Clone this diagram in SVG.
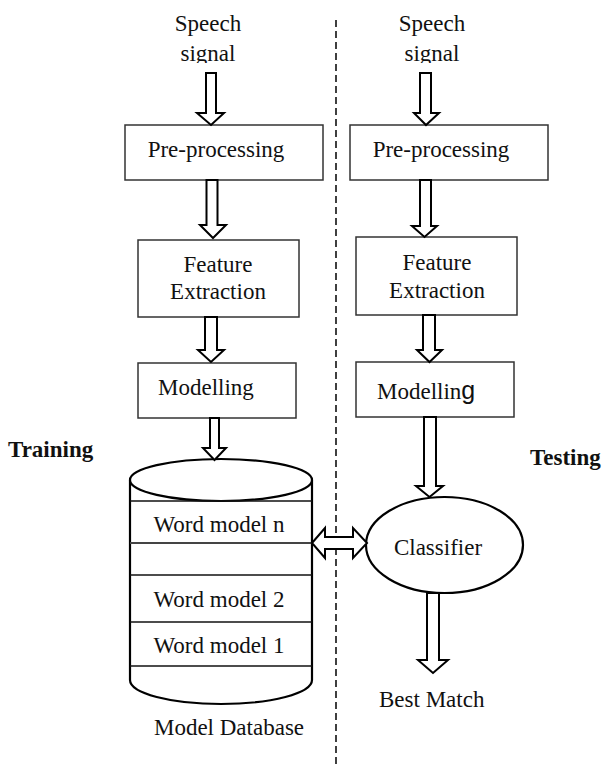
<svg xmlns="http://www.w3.org/2000/svg" width="612" height="765" viewBox="0 0 612 765">
<style>
text{font-family:"Liberation Serif","Times New Roman",serif;font-size:23px;fill:#111}
.c{text-anchor:middle}
.b{font-weight:bold}
.box{fill:#fff;stroke:#333;stroke-width:1.5}
.arr{fill:#fff;stroke:#000;stroke-width:2;stroke-linejoin:miter}
.cyl{fill:#fff;stroke:#000;stroke-width:2.2}
.ln{stroke:#111;stroke-width:1.6}
</style>
<defs>
<clipPath id="clipTop"><rect x="0" y="0" width="612" height="63"/></clipPath>
</defs>
<rect width="612" height="765" fill="#fff"/>
<g id="divider"><line x1="336" y1="20" x2="336" y2="765" stroke="#111" stroke-width="1.6" stroke-dasharray="7,4"/></g>

<g id="speech-left" clip-path="url(#clipTop)">
<text class="c" x="208" y="31">Speech</text>
<text class="c" x="208" y="61">signal</text>
</g>
<g id="speech-right" clip-path="url(#clipTop)">
<text class="c" x="432" y="31">Speech</text>
<text class="c" x="432" y="61">signal</text>
</g>

<g id="pre-left"><rect class="box" x="125" y="125" width="198" height="55"/><text class="c" x="216" y="157">Pre-processing</text></g>
<g id="pre-right"><rect class="box" x="350" y="125" width="198" height="55"/><text class="c" x="441" y="157">Pre-processing</text></g>

<g id="fe-left"><rect class="box" x="138" y="240" width="161" height="77"/><text class="c" x="218" y="272">Feature</text><text class="c" x="218" y="299">Extraction</text></g>
<g id="fe-right"><rect class="box" x="356" y="237" width="161" height="78"/><text class="c" x="437" y="270">Feature</text><text class="c" x="437" y="298">Extraction</text></g>

<g id="mod-left"><rect class="box" x="138" y="363" width="158" height="55"/><text x="158" y="395">Modelling</text></g>
<g id="mod-right"><rect class="box" x="356" y="362" width="158" height="55"/><text x="377" y="399">Modellin<tspan style="font-family:'Liberation Sans',Arial,sans-serif;font-size:25px">g</tspan></text></g>

<g id="training"><text class="b" x="8" y="457">Training</text></g>
<g id="testing"><text class="b" x="530" y="465">Testing</text></g>

<g id="database">
<path class="cyl" d="M130,480 V680 A91,24 0 0 0 312,680 V480"/>
<ellipse class="cyl" cx="221" cy="480" rx="91" ry="21"/>
<line class="ln" x1="130" y1="501" x2="312" y2="501"/>
<line x1="130" y1="543" x2="312" y2="543" stroke="#444" stroke-width="2"/>
<line class="ln" x1="130" y1="575" x2="312" y2="575"/>
<line class="ln" x1="130" y1="622" x2="312" y2="622"/>
<line class="ln" x1="130" y1="666" x2="312" y2="666"/>
<text class="c" x="219" y="532">Word model n</text>
<text class="c" x="219" y="607">Word model 2</text>
<text class="c" x="219" y="653">Word model 1</text>
<text class="c" x="229" y="735">Model Database</text>
</g>

<g id="classifier"><ellipse cx="444.5" cy="545" rx="78.5" ry="48" fill="#fff" stroke="#000" stroke-width="2.2"/><text class="c" x="438" y="555">Classifier</text></g>

<g id="best-match"><text x="379" y="707">Best Match</text></g>

<g id="connectors">
<path class="arr" d="M206,73 H216 V113 H224 L211,125 L197,113 H206 Z"/>
<path class="arr" d="M206.5,180 H217.5 V225 H226 L213,238 L200,225 H206.5 Z"/>
<path class="arr" d="M205,317 H217 V350 H224 L211,362 L198,350 H205 Z"/>
<path class="arr" d="M210,418 H219 V448 H226 L214.5,460 L203,448 H210 Z"/>
<path class="arr" d="M420,73 H431 V113 H439 L426,125 L414,113 H420 Z"/>
<path class="arr" d="M420,180 H431 V226 H437 L424.5,237 L412,226 H420 Z"/>
<path class="arr" d="M423,315 H435 V350 H442 L429.5,362 L417,350 H423 Z"/>
<path class="arr" d="M424,417 H436 V486 H443 L429.5,497 L416,486 H424 Z"/>
<path class="arr" d="M427,593 H439 V660 H448 L433,673 L418,660 H427 Z"/>
<path class="arr" d="M312,543 L325,528 V537 H353 V528 L367,543 L353,558 V549 H325 V558 Z"/>
</g>
</svg>
